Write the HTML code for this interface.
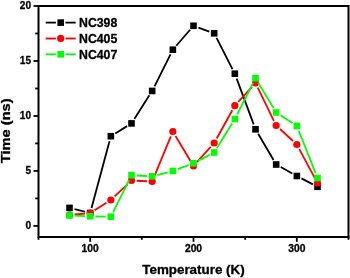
<!DOCTYPE html>
<html><head><meta charset="utf-8"><style>
html,body{margin:0;padding:0;background:#fff;}
svg{display:block;will-change:transform;}
text{-webkit-font-smoothing:antialiased;font-family:"Liberation Sans",sans-serif;font-weight:bold;fill:#000;stroke:#000;stroke-width:0.3px;stroke-linejoin:round;}
.t{font-size:10.3px;}
.ty{font-size:10.1px;}
.lg{font-size:12.3px;}
.ax{font-size:12.4px;}
</style></head><body>
<svg width="350" height="278" viewBox="0 0 350 278">
<rect width="350" height="278" fill="#fff"/>
<rect x="38.5" y="6.0" width="310.0" height="231.0" fill="none" stroke="#000" stroke-width="2"/>
<line x1="33.5" y1="225.9" x2="38.5" y2="225.9" stroke="#000" stroke-width="1.8"/>
<text x="31.1" y="229.0" text-anchor="end" class="t ty">0</text>
<line x1="33.5" y1="170.9" x2="38.5" y2="170.9" stroke="#000" stroke-width="1.8"/>
<text x="31.1" y="174.0" text-anchor="end" class="t ty">5</text>
<line x1="33.5" y1="116.0" x2="38.5" y2="116.0" stroke="#000" stroke-width="1.8"/>
<text x="31.1" y="119.1" text-anchor="end" class="t ty">10</text>
<line x1="33.5" y1="61.0" x2="38.5" y2="61.0" stroke="#000" stroke-width="1.8"/>
<text x="31.1" y="64.1" text-anchor="end" class="t ty">15</text>
<line x1="33.5" y1="6.0" x2="38.5" y2="6.0" stroke="#000" stroke-width="1.8"/>
<text x="31.1" y="9.1" text-anchor="end" class="t ty">20</text>
<line x1="35.2" y1="198.4" x2="38.5" y2="198.4" stroke="#000" stroke-width="1.8"/>
<line x1="35.2" y1="143.4" x2="38.5" y2="143.4" stroke="#000" stroke-width="1.8"/>
<line x1="35.2" y1="88.5" x2="38.5" y2="88.5" stroke="#000" stroke-width="1.8"/>
<line x1="35.2" y1="33.5" x2="38.5" y2="33.5" stroke="#000" stroke-width="1.8"/>
<line x1="90.2" y1="237.0" x2="90.2" y2="241.8" stroke="#000" stroke-width="1.8"/>
<text x="90.2" y="251.9" text-anchor="middle" class="t">100</text>
<line x1="193.5" y1="237.0" x2="193.5" y2="241.8" stroke="#000" stroke-width="1.8"/>
<text x="193.5" y="251.9" text-anchor="middle" class="t">200</text>
<line x1="296.8" y1="237.0" x2="296.8" y2="241.8" stroke="#000" stroke-width="1.8"/>
<text x="296.8" y="251.9" text-anchor="middle" class="t">300</text>
<line x1="38.5" y1="237.0" x2="38.5" y2="239.8" stroke="#000" stroke-width="1.8"/>
<line x1="141.8" y1="237.0" x2="141.8" y2="239.8" stroke="#000" stroke-width="1.8"/>
<line x1="245.2" y1="237.0" x2="245.2" y2="239.8" stroke="#000" stroke-width="1.8"/>
<line x1="348.5" y1="237.0" x2="348.5" y2="239.8" stroke="#000" stroke-width="1.8"/>
<line x1="74.55" y1="209.15" x2="85.12" y2="211.75" stroke="#000" stroke-width="1.8"/>
<line x1="91.52" y1="207.98" x2="109.49" y2="141.22" stroke="#000" stroke-width="1.8"/>
<line x1="115.26" y1="133.46" x2="127.08" y2="126.14" stroke="#000" stroke-width="1.8"/>
<line x1="134.30" y1="119.01" x2="149.38" y2="95.34" stroke="#000" stroke-width="1.8"/>
<line x1="154.50" y1="86.30" x2="170.51" y2="54.35" stroke="#000" stroke-width="1.8"/>
<line x1="176.24" y1="45.77" x2="190.10" y2="29.73" stroke="#000" stroke-width="1.8"/>
<line x1="198.39" y1="27.57" x2="209.28" y2="31.53" stroke="#000" stroke-width="1.8"/>
<line x1="216.54" y1="37.93" x2="232.47" y2="69.07" stroke="#000" stroke-width="1.8"/>
<line x1="236.65" y1="78.57" x2="253.69" y2="124.43" stroke="#000" stroke-width="1.8"/>
<line x1="258.14" y1="133.78" x2="273.54" y2="160.02" stroke="#000" stroke-width="1.8"/>
<line x1="280.71" y1="167.03" x2="292.29" y2="173.47" stroke="#000" stroke-width="1.8"/>
<line x1="301.44" y1="178.41" x2="312.89" y2="184.39" stroke="#000" stroke-width="1.8"/>
<rect x="66.20" y="204.60" width="6.6" height="6.6" fill="#000"/>
<rect x="86.87" y="209.70" width="6.6" height="6.6" fill="#000"/>
<rect x="107.54" y="132.90" width="6.6" height="6.6" fill="#000"/>
<rect x="128.20" y="120.10" width="6.6" height="6.6" fill="#000"/>
<rect x="148.87" y="87.65" width="6.6" height="6.6" fill="#000"/>
<rect x="169.54" y="46.40" width="6.6" height="6.6" fill="#000"/>
<rect x="190.20" y="22.50" width="6.6" height="6.6" fill="#000"/>
<rect x="210.87" y="30.00" width="6.6" height="6.6" fill="#000"/>
<rect x="231.54" y="70.40" width="6.6" height="6.6" fill="#000"/>
<rect x="252.20" y="126.00" width="6.6" height="6.6" fill="#000"/>
<rect x="272.87" y="161.20" width="6.6" height="6.6" fill="#000"/>
<rect x="293.54" y="172.70" width="6.6" height="6.6" fill="#000"/>
<rect x="314.20" y="183.50" width="6.6" height="6.6" fill="#000"/>
<line x1="74.68" y1="214.52" x2="84.99" y2="213.58" stroke="#f00" stroke-width="1.8"/>
<line x1="94.56" y1="210.32" x2="106.44" y2="202.78" stroke="#f00" stroke-width="1.8"/>
<line x1="114.62" y1="196.43" x2="127.72" y2="184.07" stroke="#f00" stroke-width="1.8"/>
<line x1="136.70" y1="180.75" x2="146.98" y2="181.25" stroke="#f00" stroke-width="1.8"/>
<line x1="154.16" y1="176.69" x2="170.85" y2="136.31" stroke="#f00" stroke-width="1.8"/>
<line x1="175.51" y1="135.96" x2="190.83" y2="161.54" stroke="#f00" stroke-width="1.8"/>
<line x1="196.98" y1="162.13" x2="210.69" y2="146.87" stroke="#f00" stroke-width="1.8"/>
<line x1="216.69" y1="138.45" x2="232.32" y2="110.25" stroke="#f00" stroke-width="1.8"/>
<line x1="238.34" y1="101.85" x2="252.00" y2="86.85" stroke="#f00" stroke-width="1.8"/>
<line x1="257.78" y1="87.68" x2="273.90" y2="120.82" stroke="#f00" stroke-width="1.8"/>
<line x1="280.00" y1="129.02" x2="293.01" y2="140.98" stroke="#f00" stroke-width="1.8"/>
<line x1="299.30" y1="149.08" x2="315.04" y2="178.42" stroke="#f00" stroke-width="1.8"/>
<circle cx="69.50" cy="215.00" r="3.6" fill="#f00"/>
<circle cx="90.17" cy="213.10" r="3.6" fill="#f00"/>
<circle cx="110.84" cy="200.00" r="3.6" fill="#f00"/>
<circle cx="131.50" cy="180.50" r="3.6" fill="#f00"/>
<circle cx="152.17" cy="181.50" r="3.6" fill="#f00"/>
<circle cx="172.84" cy="131.50" r="3.6" fill="#f00"/>
<circle cx="193.50" cy="166.00" r="3.6" fill="#f00"/>
<circle cx="214.17" cy="143.00" r="3.6" fill="#f00"/>
<circle cx="234.84" cy="105.70" r="3.6" fill="#f00"/>
<circle cx="255.50" cy="83.00" r="3.6" fill="#f00"/>
<circle cx="276.17" cy="125.50" r="3.6" fill="#f00"/>
<circle cx="296.84" cy="144.50" r="3.6" fill="#f00"/>
<circle cx="317.50" cy="183.00" r="3.6" fill="#f00"/>
<line x1="74.70" y1="215.70" x2="84.97" y2="216.10" stroke="#0f0" stroke-width="1.8"/>
<line x1="95.37" y1="216.40" x2="105.64" y2="216.60" stroke="#0f0" stroke-width="1.8"/>
<line x1="113.15" y1="212.05" x2="129.19" y2="179.85" stroke="#0f0" stroke-width="1.8"/>
<line x1="136.70" y1="175.48" x2="146.98" y2="176.02" stroke="#0f0" stroke-width="1.8"/>
<line x1="157.21" y1="175.01" x2="167.80" y2="172.29" stroke="#0f0" stroke-width="1.8"/>
<line x1="177.71" y1="169.18" x2="188.63" y2="165.12" stroke="#0f0" stroke-width="1.8"/>
<line x1="198.11" y1="160.89" x2="209.56" y2="154.91" stroke="#0f0" stroke-width="1.8"/>
<line x1="216.90" y1="148.07" x2="232.11" y2="123.43" stroke="#0f0" stroke-width="1.8"/>
<line x1="237.19" y1="114.36" x2="253.15" y2="82.84" stroke="#0f0" stroke-width="1.8"/>
<line x1="258.19" y1="82.65" x2="273.49" y2="108.05" stroke="#0f0" stroke-width="1.8"/>
<line x1="280.53" y1="115.33" x2="292.47" y2="123.07" stroke="#0f0" stroke-width="1.8"/>
<line x1="298.75" y1="130.73" x2="315.59" y2="173.17" stroke="#0f0" stroke-width="1.8"/>
<rect x="66.20" y="212.20" width="6.6" height="6.6" fill="#0f0"/>
<rect x="86.87" y="213.00" width="6.6" height="6.6" fill="#0f0"/>
<rect x="107.54" y="213.40" width="6.6" height="6.6" fill="#0f0"/>
<rect x="128.20" y="171.90" width="6.6" height="6.6" fill="#0f0"/>
<rect x="148.87" y="173.00" width="6.6" height="6.6" fill="#0f0"/>
<rect x="169.54" y="167.70" width="6.6" height="6.6" fill="#0f0"/>
<rect x="190.20" y="160.00" width="6.6" height="6.6" fill="#0f0"/>
<rect x="210.87" y="149.20" width="6.6" height="6.6" fill="#0f0"/>
<rect x="231.54" y="115.70" width="6.6" height="6.6" fill="#0f0"/>
<rect x="252.20" y="74.90" width="6.6" height="6.6" fill="#0f0"/>
<rect x="272.87" y="109.20" width="6.6" height="6.6" fill="#0f0"/>
<rect x="293.54" y="122.60" width="6.6" height="6.6" fill="#0f0"/>
<rect x="314.20" y="174.70" width="6.6" height="6.6" fill="#0f0"/>
<line x1="45.7" y1="22.6" x2="55.9" y2="22.6" stroke="#000" stroke-width="1.8"/>
<line x1="65.5" y1="22.6" x2="75.7" y2="22.6" stroke="#000" stroke-width="1.8"/>
<rect x="57.40" y="19.30" width="6.6" height="6.6" fill="#000"/>
<text x="79" y="26.8" class="lg">NC398</text>
<line x1="45.7" y1="38.5" x2="55.9" y2="38.5" stroke="#f00" stroke-width="1.8"/>
<line x1="65.5" y1="38.5" x2="75.7" y2="38.5" stroke="#f00" stroke-width="1.8"/>
<circle cx="60.70" cy="38.45" r="3.6" fill="#f00"/>
<text x="79" y="42.7" class="lg">NC405</text>
<line x1="45.7" y1="54.3" x2="55.9" y2="54.3" stroke="#0f0" stroke-width="1.8"/>
<line x1="65.5" y1="54.3" x2="75.7" y2="54.3" stroke="#0f0" stroke-width="1.8"/>
<rect x="57.40" y="51.00" width="6.6" height="6.6" fill="#0f0"/>
<text x="79" y="58.5" class="lg">NC407</text>
<text transform="translate(193.45,273.7) scale(1.08,1)" text-anchor="middle" class="ax">Temperature (K)</text>
<text transform="translate(10.4,130.8) rotate(-90) scale(1.18,1)" text-anchor="middle" class="ax">Time (ns)</text>
</svg>
</body></html>
